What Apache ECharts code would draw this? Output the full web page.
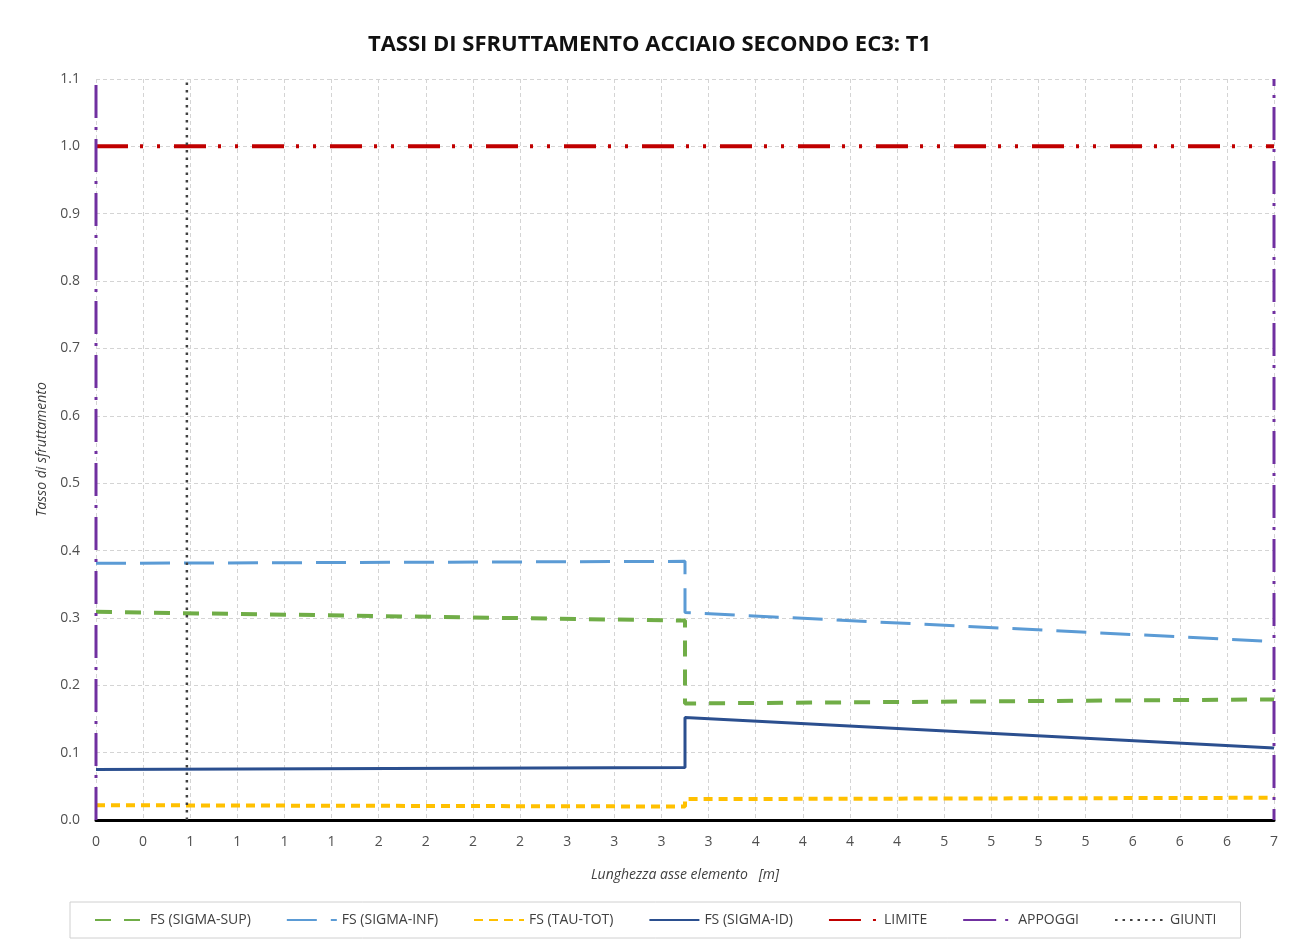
<!DOCTYPE html>
<html>
<head>
<meta charset="utf-8">
<script src="https://cdn.jsdelivr.net/npm/echarts@6/dist/echarts.min.js"></script>
<style>
html,body{margin:0;padding:0;background:#fff;}
#chart{width:1299px;height:942px;}
</style>
</head>
<body>
<div id="chart"></div>
<script>
// ---- data ----
const xSegments = [0, 3.5, 3.5, 7];           // x positions [m] of the segment ends
const sigmaSup = [0.309, 0.296, 0.173, 0.179];
const sigmaInf = [0.381, 0.384, 0.308, 0.265];
const tauTot   = [0.022, 0.020, 0.031, 0.033];
const sigmaId  = [0.075, 0.078, 0.152, 0.107];
const limiteX = [0, 7];
const limiteY = [1.0, 1.0];
const appoggiX = [0, 7];
const giuntiX = [0.54];
const verticalSpan = [0, 1.1];
const xTickLabels = ["0","0","1","1","1","1","2","2","2","2","3","3","3","3","4","4","4","4","5","5","5","5","6","6","6","7"];
const seriesNames = ["FS (SIGMA-SUP)","FS (SIGMA-INF)","FS (TAU-TOT)","FS (SIGMA-ID)","LIMITE","APPOGGI","GIUNTI"];

const pairs = (xs, ys) => xs.map((x, i) => [x, ys[i]]);
const vline = (x) => verticalSpan.map(y => [x, y]);

const FONT = "'Open Sans', 'Liberation Sans', sans-serif";
const chart = echarts.init(document.getElementById('chart'), null, {renderer: 'canvas'});

const base = {type: 'line', symbol: 'none', showSymbol: false, animation: false};

const series = [
  Object.assign({}, base, {name: seriesNames[0], data: pairs(xSegments, sigmaSup), z: 4,
    lineStyle: {color: '#70AD47', width: 4, type: [16, 13], cap: 'butt'}, itemStyle: {color: '#70AD47'}}),
  Object.assign({}, base, {name: seriesNames[1], data: pairs(xSegments, sigmaInf), z: 4,
    lineStyle: {color: '#5B9BD5', width: 3, type: [30, 14], cap: 'butt'}, itemStyle: {color: '#5B9BD5'}}),
  Object.assign({}, base, {name: seriesNames[2], data: pairs(xSegments, tauTot), z: 4,
    lineStyle: {color: '#FFC000', width: 4, type: [9, 6], cap: 'butt'}, itemStyle: {color: '#FFC000'}}),
  Object.assign({}, base, {name: seriesNames[3], data: pairs(xSegments, sigmaId), z: 5,
    lineStyle: {color: '#2B4F8F', width: 3, type: 'solid'}, itemStyle: {color: '#2B4F8F'}}),
  Object.assign({}, base, {name: seriesNames[4], data: pairs(limiteX, limiteY), z: 3,
    lineStyle: {color: '#C00000', width: 4, type: [32, 12, 3, 14, 3, 14], cap: 'butt'}, itemStyle: {color: '#C00000'}}),
  Object.assign({}, base, {name: seriesNames[5], data: vline(appoggiX[0]), z: 6,
    lineStyle: {color: '#7030A0', width: 3, type: [33, 9, 3, 9], cap: 'butt'}, itemStyle: {color: '#7030A0'}}),
  Object.assign({}, base, {name: seriesNames[5], data: vline(appoggiX[1]), z: 6,
    lineStyle: {color: '#7030A0', width: 3, type: [33, 9, 3, 9], dashOffset: 22, cap: 'butt'}, itemStyle: {color: '#7030A0'}}),
  Object.assign({}, base, {name: seriesNames[6], data: vline(giuntiX[0]), z: 6,
    lineStyle: {color: '#404040', width: 2.5, type: [2.5, 5], cap: 'butt'}, itemStyle: {color: '#404040'}})
];

const option = {
  backgroundColor: '#ffffff',
  animation: false,
  title: {
    text: 'TASSI DI SFRUTTAMENTO ACCIAIO SECONDO EC3: T1',
    left: 'center', top: 29,
    textStyle: {fontFamily: "'Liberation Sans Narrow', 'Open Sans', sans-serif", fontWeight: 'bold', fontSize: 22, color: '#111'}
  },
  grid: {left: 96, right: 25, top: 79, bottom: 122, containLabel: false},
  legend: {
    data: seriesNames,
    bottom: 4, left: 70,
    width: 1167,
    padding: [11, 24],
    itemWidth: 50, itemHeight: 10, itemGap: 35,
    itemStyle: {opacity: 0},
    borderColor: '#D0D0D0', borderWidth: 1,
    textStyle: {fontFamily: FONT, fontSize: 14, color: '#404040'}
  },
  xAxis: {
    type: 'value', min: 0, max: 7, interval: 0.28,
    name: 'Lunghezza asse elemento   [m]', nameLocation: 'middle', nameGap: 48,
    nameTextStyle: {fontFamily: FONT, fontStyle: 'italic', fontSize: 14, color: '#404040'},
    axisLine: {show: true, onZero: false, lineStyle: {color: '#000', width: 3}},
    axisTick: {show: false},
    axisLabel: {
      margin: 15, fontFamily: FONT, fontSize: 14, color: '#505050',
      formatter: (v) => { const i = Math.round(v / 0.28); return xTickLabels[i] !== undefined ? xTickLabels[i] : ''; }
    },
    splitLine: {show: true, lineStyle: {color: '#D4D4D4', width: 1, type: [4, 3]}}
  },
  yAxis: {
    type: 'value', min: 0, max: 1.1, interval: 0.1,
    name: 'Tasso di sfruttamento', nameLocation: 'middle', nameGap: 46,
    nameTextStyle: {fontFamily: FONT, fontStyle: 'italic', fontSize: 14, color: '#404040'},
    axisLine: {show: false},
    axisTick: {show: false},
    axisLabel: {margin: 16, fontFamily: FONT, fontSize: 14, color: '#505050', formatter: (v) => v.toFixed(1)},
    splitLine: {show: true, lineStyle: {color: '#D4D4D4', width: 1, type: [4, 3]}}
  },
  series: series
};
chart.setOption(option);
</script>
</body>
</html>
